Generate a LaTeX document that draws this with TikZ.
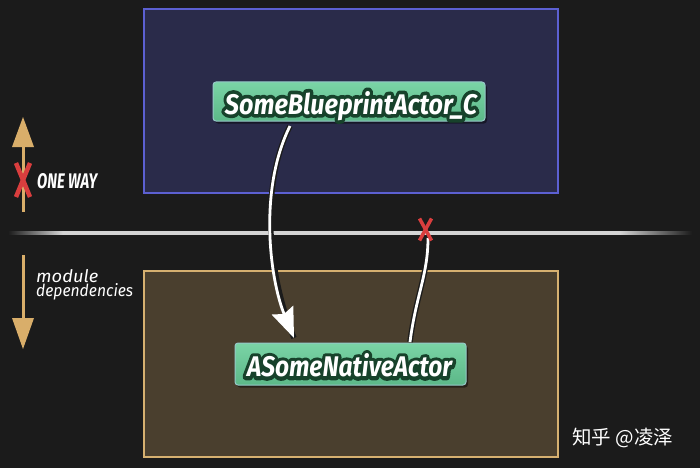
\documentclass[tikz,border=0pt]{standalone}
\usepackage{graphicx}
\usepackage{fontspec}
\setmainfont{Fira Sans}
\newfontfamily\cjkfont{Noto Sans CJK SC}
\usetikzlibrary{arrows.meta}
\definecolor{bg}{RGB}{27,27,27}
\definecolor{navyfill}{RGB}{42,43,74}
\definecolor{navyline}{RGB}{92,96,210}
\definecolor{brownfill}{RGB}{74,63,46}
\definecolor{brownline}{RGB}{214,176,112}
\definecolor{mintT}{RGB}{122,212,166}
\definecolor{mintB}{RGB}{92,184,136}
\definecolor{mintline}{RGB}{150,200,200}
\definecolor{tan}{RGB}{217,174,106}
\definecolor{xred}{RGB}{218,62,62}
\definecolor{linegray}{RGB}{212,212,212}
\pgfdeclarehorizontalshading{sepshade}{100bp}{color(0bp)=(bg); color(25bp)=(bg); color(29bp)=(linegray); color(69.7bp)=(linegray); color(75bp)=(bg); color(100bp)=(bg)}
\tikzset{
  region/.style={line width=2.5pt, minimum width=414pt},
  classbox/.style={rounded corners=3pt, draw=mintline, line width=1pt, top color=mintT, bottom color=mintB, inner sep=0pt},
  boxshadow/.style={rounded corners=3pt, fill=black, opacity=0.45, inner sep=0pt},
  labeltext/.style={text=white, anchor=base, inner sep=0pt},
  depline/.style={white, line width=2.8pt, preaction={draw=bg, line width=5.5pt, -}},
  tanarrow/.style={tan, line width=3pt},
  tanhead/.style={fill=tan},
  redx/.style={xred, line width=4.5pt},
  redxs/.style={xred, line width=3.5pt},
  legendtext/.style={anchor=base west, inner sep=0pt, text=white},
}
\newcommand{\outlined}[1]{\rlap{\special{pdf:literal direct q 2 Tr 2.6 w 1 j 0.09 0.26 0.17 RG 0.09 0.26 0.17 rg}#1\special{pdf:literal direct Q}}#1}
\newcommand{\bpname}{\resizebox{252pt}{23pt}{\bfseries\itshape SomeBlueprintActor\_C}}
\newcommand{\naname}{\resizebox{205pt}{23pt}{\bfseries\itshape ASomeNativeActor}}
\begin{document}
\begin{tikzpicture}[x=1pt,y=-1pt]
\fill[bg] (0,0) rectangle (700,468);
\useasboundingbox (0,0) rectangle (700,468);
% regions
\node[region, draw=navyline, fill=navyfill, minimum height=184pt] (top) at (351,101) {};
\node[region, draw=brownline, fill=brownfill, minimum height=186pt] (bot) at (351,364) {};
% separator line
\shade[shading=sepshade] (8,231.8) rectangle (692,234.6);
% class boxes
\node[boxshadow, minimum width=272pt, minimum height=39pt] (bpS) at (351,104) {};
\node[classbox, minimum width=272pt, minimum height=39pt] (bp) at (349,101.5) {};
\node[labeltext] (bpT) at (351,114) {\outlined{\bpname}};
\node[boxshadow, minimum width=231pt, minimum height=42pt] (naS) at (352.5,366.5) {};
\node[classbox, minimum width=231pt, minimum height=42pt] (na) at (350.5,364) {};
\node[labeltext] (naT) at (349.5,376.7) {\outlined{\naname}};
% dependency connectors
\coordinate (bpOut) at (290,126);
\coordinate (naIn) at (294,338);
\draw[depline, -{Stealth[length=30pt,width=23pt,inset=4pt]}] (bpOut) .. controls (258,190) and (270,280) .. (naIn);
\coordinate (naOut) at (410,342);
\coordinate (cut) at (428,238);
\draw[depline] (naOut) .. controls (416,295) and (428,275) .. (cut);
% red X on the separator
\coordinate (xc) at (425.5,229.5);
\draw[redxs] ([shift={(-6,-11)}]xc) -- ([shift={(6,11)}]xc);
\draw[redxs] ([shift={(6,-11)}]xc) -- ([shift={(-6,11)}]xc);
% left legend: up arrow
\coordinate (upBase) at (23,212);
\coordinate (upNeck) at (23,147);
\coordinate (upTip) at (23,117);
\draw[tanarrow] (upBase) -- (upNeck);
\fill[tanhead] ([xshift=-11]upNeck) -- (upTip) -- ([xshift=11]upNeck) -- cycle;
\coordinate (lx) at (23,180);
\draw[redx] ([shift={(-7,-17)}]lx) -- ([shift={(7,17)}]lx);
\draw[redx] ([shift={(7,-17)}]lx) -- ([shift={(-7,17)}]lx);
\node[legendtext] (oneway) at (37,188) {\resizebox{60pt}{15pt}{\bfseries\itshape ONE WAY}};
% left legend: down arrow
\coordinate (dnBase) at (23,255);
\coordinate (dnNeck) at (23,318);
\coordinate (dnTip) at (23,349);
\draw[tanarrow] (dnBase) -- (dnNeck);
\fill[tanhead] ([xshift=-11]dnNeck) -- (dnTip) -- ([xshift=11]dnNeck) -- cycle;
\node[legendtext] (mod) at (36,282.7) {\resizebox{62pt}{13pt}{\itshape module}};
\node[legendtext] (dep) at (36,296.7) {\resizebox{97pt}{13pt}{\itshape dependencies}};
% watermark
\node[legendtext, font=\cjkfont\fontsize{19.5}{22}\selectfont] (wm) at (572,444) {知乎 @凌泽};
\end{tikzpicture}
\end{document}
